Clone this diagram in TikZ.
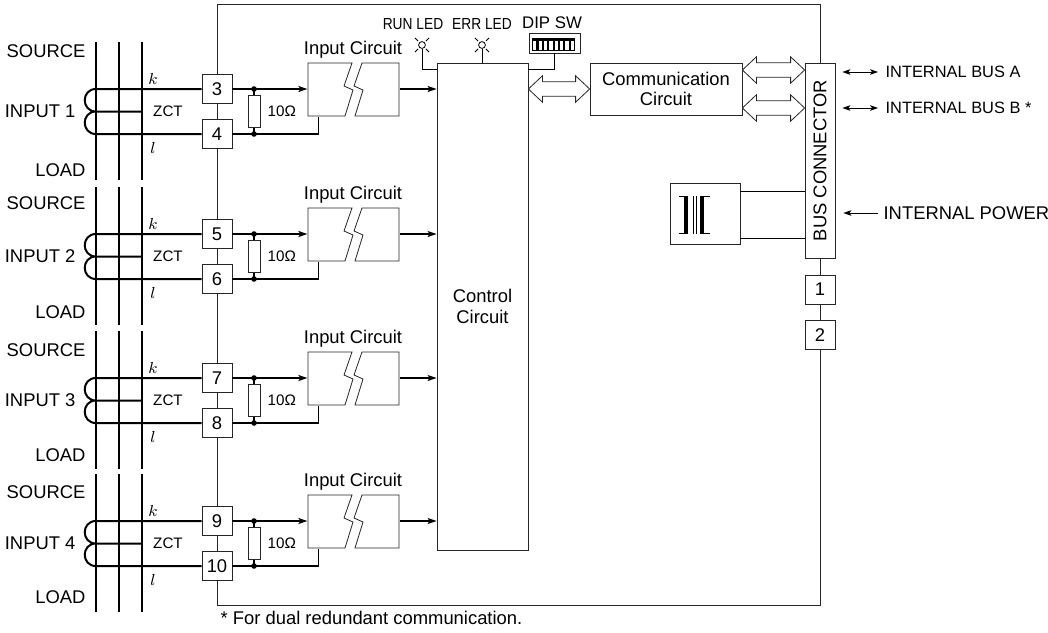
\documentclass[tikz,border=0pt]{standalone}
\usepackage{fontspec}
\setmainfont{Liberation Sans}
\usetikzlibrary{calc,arrows.meta}
\tikzset{
  box/.style={draw=black!85,thin,fill=white,inner sep=0pt},
  term/.style={box,minimum width=15pt,minimum height=14.5pt},
  wire/.style={line width=0.75pt},
  phase/.style={line width=1pt},
  arr/.style={-{Stealth[length=4.5pt,width=3pt,inset=1pt]}},
  sarr/.style={-{Stealth[length=4pt,width=2.8pt,inset=1pt]}},
  darr/.style={{Stealth[length=4pt,width=2.8pt,inset=1pt]}-{Stealth[length=4pt,width=2.8pt,inset=1pt]}},
  smalltxt/.style={font=\fontsize{7.6}{9}\selectfont},
  lbl/.style={inner sep=1pt},
  led/.pic={\draw[thin] (0,0) circle(1.7pt);
    \foreach\r in{45,135,225,315}\draw[line width=0.5pt] (\r:5.5)--(\r:10);}
}
\newcommand\narrow[1]{\scalebox{0.86}[1]{#1}}
\newcommand\hollowarrow[2]{%
  \draw[black!85,thin,fill=white] let \p1=#1,\p2=#2 in
    (\x1,\y1)--(\x1+7pt,\y1+6.6pt)--(\x1+7pt,\y1+3.6pt)--(\x2-7pt,\y2+3.6pt)--(\x2-7pt,\y2+6.6pt)
    --(\x2,\y2)--(\x2-7pt,\y2-6.6pt)--(\x2-7pt,\y2-3.6pt)--(\x1+7pt,\y1-3.6pt)--(\x1+7pt,\y1-6.6pt)--cycle;}
\begin{document}
\begin{tikzpicture}[x=0.5pt,y=-0.5pt,semithick,font=\fontsize{9.2}{10.4}\selectfont]
\useasboundingbox (0,0) rectangle (1048,632);
\draw[black!85,thin] (217,4) rectangle (820,605);
\node[box,minimum width=45.5pt,minimum height=243.5pt,align=center] (cc) at (482.5,306.5) {Control\\Circuit};
\node[box,minimum width=76pt,minimum height=26pt,align=center] (comm) at (666,89) {Communication\\Circuit};
\node[box,minimum width=15pt,minimum height=97.5pt] (bus) at (820,160.5) {};
\node[rotate=90] (busl) at (bus) {BUS CONNECTOR};
\node[term] (p1) at (820,289.5) {1};
\node[term] (p2) at (820,335) {2};
\node[box,minimum width=35pt,minimum height=30.5pt] (tr) at (705,213.5) {};
\draw[line width=0.8pt] (679,196.5)--(687,196.5) (679,233.5)--(687,233.5) (701,196.5)--(710,196.5) (701,233.5)--(710,233.5);
\draw[line width=1.6pt] (686,196)--(686,234) (702,196)--(702,234);
\draw[thin] (693,196)--(693,234) (696,196)--(696,234);
\coordinate(ta)at($(tr.north east)+(0,9)$);\coordinate(tb)at($(tr.south east)+(0,-6)$);
\draw[thin] (ta)--(ta-|bus.west) (tb)--(tb-|bus.west);
% LEDs and DIP switch
\coordinate(run)at(422,45);\coordinate(err)at(482,45);
\pic at (run) {led};\pic at (err) {led};
\node[box,minimum width=25.5pt,minimum height=10pt] (dip) at (554.5,43) {};
\fill (532,37.5) rectangle (575,51);
\foreach\i in{0,...,7}\fill[white] (533.2+5.375*\i,41) rectangle ++(3.2,8.5);
\node[font=\fontsize{8}{9}\selectfont] (runl) at (413,24) {\narrow{RUN LED}};
\node[font=\fontsize{8}{9}\selectfont] (errl) at (482,24) {\narrow{ERR LED}};
\node[font=\fontsize{8.4}{9}\selectfont] (dipl) at (552,23) {DIP SW};
\draw[thin] ($(run)+(0,4)$) |- ($(cc.north west)+(0,7)$) ($(err)+(0,4)$)--(err|-cc.north) (dip.south) |- ($(cc.north east)+(0,7)$);
% buses
\coordinate(ca)at(cc.east|-comm.west);
\hollowarrow{(ca)}{(comm.west)}
\coordinate(ba)at($(comm.east)+(0,-19)$);\coordinate(bb)at($(comm.east)+(0,19)$);
\hollowarrow{(ba)}{(ba-|bus.west)}
\hollowarrow{(bb)}{(bb-|bus.west)}
\node[lbl,anchor=west,font=\fontsize{8.2}{10}\selectfont] (busa) at (883,72) {INTERNAL BUS A};
\node[lbl,anchor=west,font=\fontsize{8.2}{10}\selectfont] (busb) at (883,108) {INTERNAL BUS B *};
\node[lbl,anchor=west] (pwr) at (881,213) {INTERNAL POWER};
\draw[thin,darr] ($(bus.east|-busa.west)+(7,0)$)--($(busa.west)+(-5,0)$);
\draw[thin,darr] ($(bus.east|-busb.west)+(7,0)$)--($(busb.west)+(-5,0)$);
\draw[thin,sarr] ($(pwr.west)+(-3,0)$)--($(bus.east|-pwr.west)+(8,0)$);
% inputs
\foreach\y/\ta/\tb/\n/\sy/\ly in{89/3/4/1/51/170,234/5/6/2/203/312,378/7/8/3/350/455,521/9/10/4/492/597}{
  \node[term] (t\ta) at (217,\y) {\ta};
  \node[term] (t\tb) at (217,\y+45) {\tb};
  \draw[phase] (96,\y-47)--(96,\y+91) (119,\y-47)--(119,\y+91) (142,\y-47)--(142,\y+91);
  \draw[phase] (t\ta.west)--(96,\y) .. controls (81,\y) and (81,\y+22.5) .. (96,\y+22.5)
    .. controls (81,\y+22.5) and (81,\y+45) .. (96,\y+45)--(t\tb.west) (96,\y+22.5)--(142,\y+22.5);
  \node[lbl,anchor=east] (src\n) at (88,\sy) {SOURCE};
  \node[lbl,anchor=east] (load\n) at (88,\ly) {LOAD};
  \node[lbl,anchor=east] (in\n) at (78,\y+22.5) {INPUT \n};
  \node[smalltxt] (zct\n) at (168,\y+22.5) {ZCT};
  \node[font=\fontsize{8.5}{10}\selectfont] (kl\n) at (153,\y-10) {$k$};
  \node[font=\fontsize{8.5}{10}\selectfont] (ll\n) at (153,\y+59) {$l$};
  \node[box,minimum width=6pt,minimum height=16pt] (r\n) at (254,\y+22.5) {};
  \draw[wire] (254,\y)--(r\n) (r\n)--(254,\y+45);
  \fill (254,\y) circle(1.4pt) (254,\y+45) circle(1.4pt);
  \node[smalltxt,lbl,anchor=west] (ohm\n) at (265,\y+22.5) {10Ω};
  \node[minimum width=45.5pt,minimum height=26.5pt,inner sep=0pt] (ic\n) at (353.5,\y+0.5) {};
  \draw[thin,black!85] (308,\y-26)--(352,\y-26)--(344,\y-3)--(353,\y+1)--(345,\y+27)--(308,\y+27)--cycle
    (362,\y-26)--(399,\y-26)--(399,\y+27)--(355,\y+27)--(363,\y+1)--(354,\y-3)--cycle;
  \node (icl\n) at (353,\y-39) {Input Circuit};
  \draw[wire,arr] (t\ta.east)--(t\ta.east-|ic\n.west);
  \draw[wire] (t\tb.east)-|($(ic\n.south west)+(11,0)$);
  \draw[wire,arr] (ic\n.east|-t\ta)--(cc.west|-t\ta);
}
\node[lbl,anchor=west] (note) at (218,618) {* For dual redundant communication.};
\end{tikzpicture}
\end{document}
